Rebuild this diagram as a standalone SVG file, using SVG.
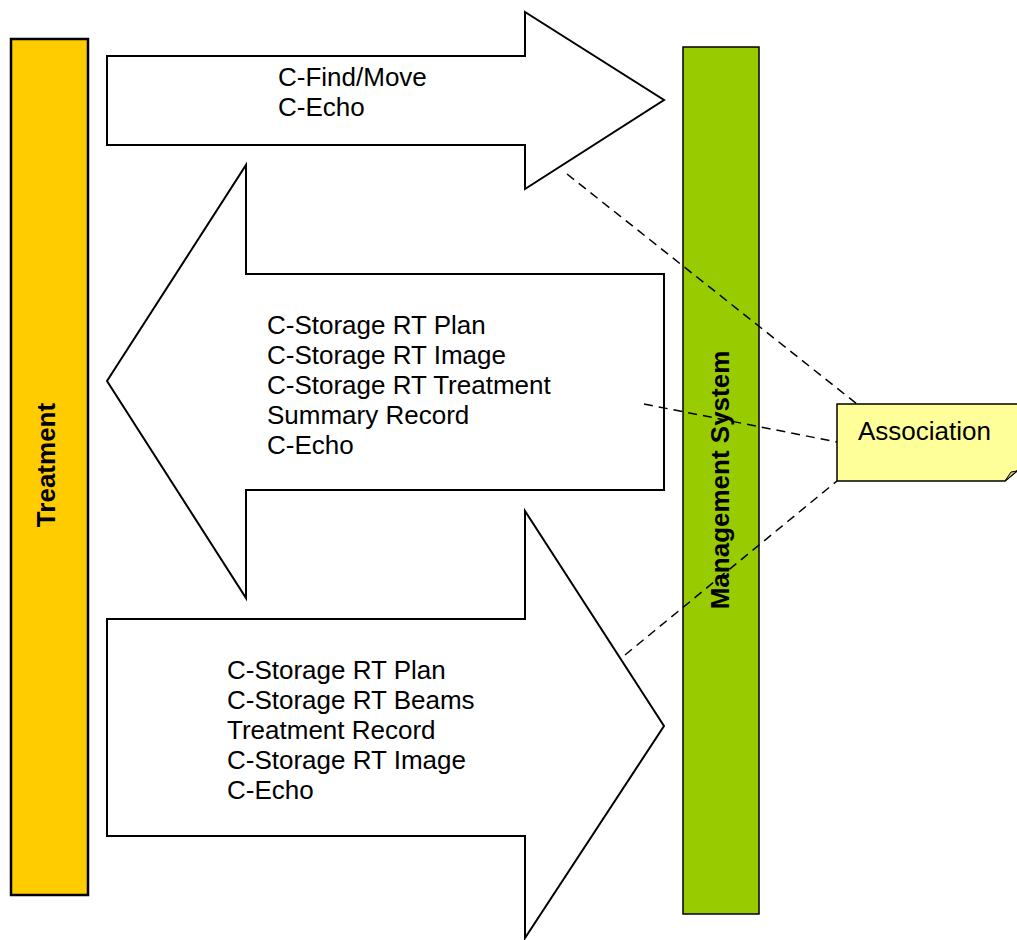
<svg xmlns="http://www.w3.org/2000/svg" width="1017" height="940" viewBox="0 0 1017 940">
<style>
.lbl{font-family:"Liberation Sans",Arial,sans-serif;font-size:26px;fill:#000}
.bold{font-weight:bold}
.arrow{fill:#fff;stroke:#000;stroke-width:2;stroke-linejoin:miter}
.dash{fill:none;stroke:#000;stroke-width:1.5;stroke-dasharray:9,6}
</style>
<rect width="1017" height="940" fill="#fff"/>
<g id="treatment">
<rect x="11" y="39" width="77" height="856" fill="#FFCC00" stroke="#000" stroke-width="2.5"/>
<text class="lbl bold" transform="translate(55,465) rotate(-90)" text-anchor="middle">Treatment</text>
</g>
<g id="management-system">
<rect x="683" y="47" width="76" height="867" fill="#99CC00" stroke="#000" stroke-width="1.5"/>
<text class="lbl bold" transform="translate(729,480) rotate(-90)" text-anchor="middle">Management System</text>
</g>
<g id="arrow-find">
<path class="arrow" d="M107,56 H525 V12 L664,100 L525,189 V145 H107 Z"/>
<text class="lbl" x="278" y="86">C-Find/Move</text>
<text class="lbl" x="278" y="116">C-Echo</text>
</g>
<g id="arrow-storage-back">
<path class="arrow" d="M664,274 H246 V165 L107,381 L246,598 V490 H664 Z"/>
<text class="lbl" x="267" y="334">C-Storage RT Plan</text>
<text class="lbl" x="267" y="364">C-Storage RT Image</text>
<text class="lbl" x="267" y="394">C-Storage RT Treatment</text>
<text class="lbl" x="267" y="424">Summary Record</text>
<text class="lbl" x="267" y="454">C-Echo</text>
</g>
<g id="arrow-storage-forward">
<path class="arrow" d="M107,619 H525 V511 L664,726 L525,938 V836 H107 Z"/>
<text class="lbl" x="227" y="679">C-Storage RT Plan</text>
<text class="lbl" x="227" y="709">C-Storage RT Beams</text>
<text class="lbl" x="227" y="739">Treatment Record</text>
<text class="lbl" x="227" y="769">C-Storage RT Image</text>
<text class="lbl" x="227" y="799">C-Echo</text>
</g>
<g id="connectors">
<line class="dash" x1="567" y1="174" x2="857" y2="404"/>
<line class="dash" x1="644" y1="404" x2="837" y2="442"/>
<line class="dash" x1="625" y1="655" x2="837" y2="481"/>
</g>
<g id="association">
<path d="M837,404 H1030 V470 L1017,471 L1005,481 H837 Z" fill="#FFFF99" stroke="#000" stroke-width="1.5"/>
<path d="M1005,481 L1011,472 L1017,471 Z" fill="#CCCC66" stroke="#000" stroke-width="1"/>
<text class="lbl" x="858" y="440">Association</text>
</g>
</svg>
